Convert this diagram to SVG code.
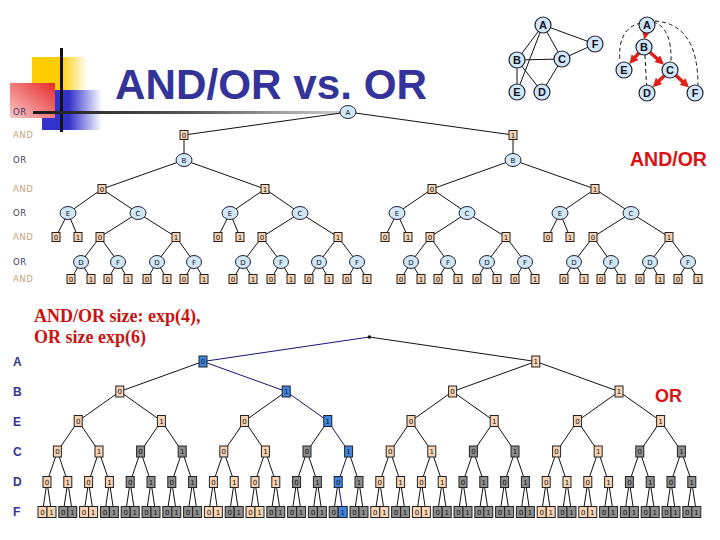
<svg xmlns="http://www.w3.org/2000/svg" width="720" height="540" viewBox="0 0 720 540">
<defs>
<style>
.lab{font-family:"DejaVu Sans",Verdana,sans-serif;font-size:8.5px;letter-spacing:0.5px}
.lor{fill:#3c3c64}
.land{fill:#c8a27c}
.n text,.o text{font-family:"DejaVu Sans",Verdana,sans-serif;font-size:7px;text-anchor:middle;fill:#111}
.n rect{stroke:#222;stroke-width:1}
.p rect{fill:#f8d3b3}
.g rect{fill:#8e8e8e}
.b rect{fill:#3f86e2}
.o ellipse{fill:#cfe7f9;stroke:#223;stroke-width:1}
.gc circle{fill:#cfe7f9;stroke:#223;stroke-width:1.2}
.gc text{font-family:"Liberation Sans",Arial,sans-serif;font-size:11px;font-weight:bold;text-anchor:middle;fill:#112}
.e{stroke:#111;stroke-width:1;fill:none}
.nv{stroke:#14147a}
.dash{stroke:#111;stroke-width:1;stroke-dasharray:4 3;fill:none}
.red{stroke:#e0201a;stroke-width:3.5;fill:none;marker-end:url(#ah)}
.rl{font-family:"Liberation Sans",Arial,sans-serif;font-weight:bold;font-size:12px;fill:#333399}
</style>
<linearGradient id="gy" x1="0" y1="0" x2="1" y2="0"><stop offset="0.5" stop-color="#ffcc00"/><stop offset="1" stop-color="#ffcc00" stop-opacity="0"/></linearGradient>
<linearGradient id="gb" x1="0" y1="0" x2="1" y2="0"><stop offset="0.45" stop-color="#3333cc"/><stop offset="1" stop-color="#3333cc" stop-opacity="0"/></linearGradient>
<linearGradient id="gr" x1="1" y1="0" x2="0" y2="1"><stop offset="0" stop-color="#e82a2a"/><stop offset="1" stop-color="#f8c8c8"/></linearGradient>
<linearGradient id="gl" x1="0" y1="0" x2="1" y2="0"><stop offset="0" stop-color="#1a1a1a"/><stop offset="0.5" stop-color="#555"/><stop offset="1" stop-color="#cfcfcf"/></linearGradient>
<marker id="ah" markerUnits="userSpaceOnUse" markerWidth="10" markerHeight="10" refX="3" refY="4.5" orient="auto"><path d="M0,0L9,4.5L0,9z" fill="#e0201a"/></marker>
</defs>
<rect width="720" height="540" fill="#fff"/>
<g id="decor">
<rect x="32" y="57" width="56" height="33" fill="url(#gy)"/>
<rect x="42" y="90" width="60" height="40" fill="url(#gb)"/>
<rect x="10" y="83" width="45" height="35" fill="url(#gr)"/>
<rect x="60" y="48" width="3" height="84" fill="#111"/>
<rect x="33" y="111" width="310" height="3" fill="url(#gl)"/>
</g>
<g id="title"><text x="115" y="99" font-family="Liberation Sans,Arial,sans-serif" font-weight="bold" font-size="43" fill="#333399" textLength="312" lengthAdjust="spacingAndGlyphs">AND/OR vs. OR</text></g>
<g id="labels">
<text class="lab lor" x="13" y="115">OR</text>
<text class="lab land" x="13" y="138">AND</text>
<text class="lab lor" x="13" y="163">OR</text>
<text class="lab land" x="13" y="192">AND</text>
<text class="lab lor" x="13" y="216">OR</text>
<text class="lab land" x="13" y="240">AND</text>
<text class="lab lor" x="13" y="265">OR</text>
<text class="lab land" x="13" y="282">AND</text>
<text x="630" y="166" font-family="Liberation Sans,Arial,sans-serif" font-weight="bold" font-size="19.5" fill="#dd1111">AND/OR</text>
<text x="34" y="322" font-family="Liberation Serif,Times New Roman,serif" font-weight="bold" font-size="18" fill="#cc1111">AND/OR size: exp(4),</text>
<text x="34" y="343" font-family="Liberation Serif,Times New Roman,serif" font-weight="bold" font-size="18" fill="#cc1111">OR size exp(6)</text>
<text x="655" y="402" font-family="Liberation Sans,Arial,sans-serif" font-weight="bold" font-size="18" fill="#dd1111">OR</text>
<text class="rl" x="13" y="366">A</text>
<text class="rl" x="13" y="396">B</text>
<text class="rl" x="13" y="425.5">E</text>
<text class="rl" x="13" y="456">C</text>
<text class="rl" x="13" y="486">D</text>
<text class="rl" x="13" y="516">F</text>
</g>
<g id="connectors">
<g id="graph1-edges" class="e">
<path d="M543 25L517 60"/><path d="M543 25L562 59"/><path d="M543 25L595 44"/><path d="M543 25L517 92"/><path d="M517 60L562 59"/><path d="M517 60L517 92"/><path d="M517 60L542 92"/><path d="M562 59L595 44"/><path d="M562 59L542 92"/>
</g>
<g id="graph2-edges">
<path class="dash" d="M641 23Q617 28 620 62"/>
<path class="dash" d="M653 22Q672 27 671 62"/>
<path class="dash" d="M655 21Q698 24 698 85"/>
<path class="dash" d="M645 55L646.5 85"/>
<path class="red" d="M646.3 30L645.6 33.5"/>
<path class="red" d="M638.8 53L633.2 59.4"/>
<path class="red" d="M650 52.3L659.5 60.7"/>
<path class="red" d="M664.3 75.7L656.9 83.1"/>
<path class="red" d="M675.9 75.4L684.7 83.5"/>
</g>
<g id="andor-edges" class="e">
<path d="M348 112L184 135"/><path d="M348 112L513 135"/>
<path d="M184 135L184 160"/><path d="M513 135L513 160"/>
<path d="M184 160L102 189"/><path d="M184 160L265 189"/><path d="M513 160L432 189"/><path d="M513 160L595 189"/>
<path d="M102 189L68 213"/><path d="M102 189L138 213"/><path d="M265 189L230 213"/><path d="M265 189L300 213"/><path d="M432 189L397 213"/><path d="M432 189L467 213"/><path d="M595 189L560 213"/><path d="M595 189L631 213"/>
<path d="M68 213L56 237"/><path d="M68 213L78 237"/><path d="M230 213L218 237"/><path d="M230 213L240 237"/><path d="M397 213L385 237"/><path d="M397 213L408 237"/><path d="M560 213L548 237"/><path d="M560 213L570 237"/>
<path d="M138 213L100 237"/><path d="M138 213L176 237"/><path d="M300 213L262 237"/><path d="M300 213L338 237"/><path d="M467 213L430 237"/><path d="M467 213L506 237"/><path d="M631 213L593 237"/><path d="M631 213L669 237"/>
<path d="M100 237L81 262"/><path d="M100 237L118 262"/><path d="M176 237L157 262"/><path d="M176 237L194 262"/><path d="M262 237L243 262"/><path d="M262 237L281 262"/><path d="M338 237L319 262"/><path d="M338 237L357 262"/>
<path d="M430 237L411 262"/><path d="M430 237L448 262"/><path d="M506 237L487 262"/><path d="M506 237L525 262"/><path d="M593 237L574 262"/><path d="M593 237L611 262"/><path d="M669 237L650 262"/><path d="M669 237L688 262"/>
<path d="M81 262L71 279"/><path d="M81 262L91 279"/><path d="M118 262L108 279"/><path d="M118 262L128 279"/><path d="M157 262L147 279"/><path d="M157 262L167 279"/><path d="M194 262L184 279"/><path d="M194 262L204 279"/>
<path d="M243 262L233 279"/><path d="M243 262L253 279"/><path d="M281 262L271 279"/><path d="M281 262L291 279"/><path d="M319 262L309 279"/><path d="M319 262L329 279"/><path d="M357 262L347 279"/><path d="M357 262L367 279"/>
<path d="M411 262L401 279"/><path d="M411 262L421 279"/><path d="M448 262L438 279"/><path d="M448 262L458 279"/><path d="M487 262L477 279"/><path d="M487 262L497 279"/><path d="M525 262L515 279"/><path d="M525 262L535 279"/>
<path d="M574 262L564 279"/><path d="M574 262L584 279"/><path d="M611 262L601 279"/><path d="M611 262L621 279"/><path d="M650 262L640 279"/><path d="M650 262L660 279"/><path d="M688 262L678 279"/><path d="M688 262L698 279"/>
</g>
<g id="or-edges" class="e">
<path class="nv" d="M369.4 337L203 361.5"/><path d="M369.4 337L535.8 361.5"/>
<path d="M203 361.5L119.8 391.5"/><path class="nv" d="M203 361.5L286.2 391.5"/><path d="M535.8 361.5L452.6 391.5"/><path d="M535.8 361.5L619 391.5"/>
<path d="M119.8 391.5L78.2 421"/><path d="M119.8 391.5L161.4 421"/><path d="M286.2 391.5L244.6 421"/><path class="nv" d="M286.2 391.5L327.8 421"/><path d="M452.6 391.5L411 421"/><path d="M452.6 391.5L494.2 421"/><path d="M619 391.5L577.4 421"/><path d="M619 391.5L660.6 421"/>
<path d="M78.2 421L57.4 451.5"/><path d="M78.2 421L99 451.5"/><path d="M161.4 421L140.6 451.5"/><path d="M161.4 421L182.2 451.5"/><path d="M244.6 421L223.8 451.5"/><path d="M244.6 421L265.4 451.5"/><path d="M327.8 421L307 451.5"/><path class="nv" d="M327.8 421L348.6 451.5"/>
<path d="M411 421L390.2 451.5"/><path d="M411 421L431.8 451.5"/><path d="M494.2 421L473.4 451.5"/><path d="M494.2 421L515 451.5"/><path d="M577.4 421L556.6 451.5"/><path d="M577.4 421L598.2 451.5"/><path d="M660.6 421L639.8 451.5"/><path d="M660.6 421L681.4 451.5"/>
<path d="M57.4 451.5L47 482"/><path d="M57.4 451.5L67.8 482"/><path d="M99 451.5L88.6 482"/><path d="M99 451.5L109.4 482"/><path d="M140.6 451.5L130.2 482"/><path d="M140.6 451.5L151 482"/><path d="M182.2 451.5L171.8 482"/><path d="M182.2 451.5L192.6 482"/>
<path d="M223.8 451.5L213.4 482"/><path d="M223.8 451.5L234.2 482"/><path d="M265.4 451.5L255 482"/><path d="M265.4 451.5L275.8 482"/><path d="M307 451.5L296.6 482"/><path d="M307 451.5L317.4 482"/><path class="nv" d="M348.6 451.5L338.2 482"/><path d="M348.6 451.5L359 482"/>
<path d="M390.2 451.5L379.8 482"/><path d="M390.2 451.5L400.6 482"/><path d="M431.8 451.5L421.4 482"/><path d="M431.8 451.5L442.2 482"/><path d="M473.4 451.5L463 482"/><path d="M473.4 451.5L483.8 482"/><path d="M515 451.5L504.6 482"/><path d="M515 451.5L525.4 482"/>
<path d="M556.6 451.5L546.2 482"/><path d="M556.6 451.5L567 482"/><path d="M598.2 451.5L587.8 482"/><path d="M598.2 451.5L608.6 482"/><path d="M639.8 451.5L629.4 482"/><path d="M639.8 451.5L650.2 482"/><path d="M681.4 451.5L671 482"/><path d="M681.4 451.5L691.8 482"/>
<path d="M47 482L42.5 512"/><path d="M47 482L51.5 512"/><path d="M67.8 482L63.3 512"/><path d="M67.8 482L72.3 512"/><path d="M88.6 482L84.1 512"/><path d="M88.6 482L93.1 512"/><path d="M109.4 482L104.9 512"/><path d="M109.4 482L113.9 512"/>
<path d="M130.2 482L125.7 512"/><path d="M130.2 482L134.7 512"/><path d="M151 482L146.5 512"/><path d="M151 482L155.5 512"/><path d="M171.8 482L167.3 512"/><path d="M171.8 482L176.3 512"/><path d="M192.6 482L188.1 512"/><path d="M192.6 482L197.1 512"/>
<path d="M213.4 482L208.9 512"/><path d="M213.4 482L217.9 512"/><path d="M234.2 482L229.7 512"/><path d="M234.2 482L238.7 512"/><path d="M255 482L250.5 512"/><path d="M255 482L259.5 512"/><path d="M275.8 482L271.3 512"/><path d="M275.8 482L280.3 512"/>
<path d="M296.6 482L292.1 512"/><path d="M296.6 482L301.1 512"/><path d="M317.4 482L312.9 512"/><path d="M317.4 482L321.9 512"/><path d="M338.2 482L333.7 512"/><path class="nv" d="M338.2 482L342.7 512"/><path d="M359 482L354.5 512"/><path d="M359 482L363.5 512"/>
<path d="M379.8 482L375.3 512"/><path d="M379.8 482L384.3 512"/><path d="M400.6 482L396.1 512"/><path d="M400.6 482L405.1 512"/><path d="M421.4 482L416.9 512"/><path d="M421.4 482L425.9 512"/><path d="M442.2 482L437.7 512"/><path d="M442.2 482L446.7 512"/>
<path d="M463 482L458.5 512"/><path d="M463 482L467.5 512"/><path d="M483.8 482L479.3 512"/><path d="M483.8 482L488.3 512"/><path d="M504.6 482L500.1 512"/><path d="M504.6 482L509.1 512"/><path d="M525.4 482L520.9 512"/><path d="M525.4 482L529.9 512"/>
<path d="M546.2 482L541.7 512"/><path d="M546.2 482L550.7 512"/><path d="M567 482L562.5 512"/><path d="M567 482L571.5 512"/><path d="M587.8 482L583.3 512"/><path d="M587.8 482L592.3 512"/><path d="M608.6 482L604.1 512"/><path d="M608.6 482L613.1 512"/>
<path d="M629.4 482L624.9 512"/><path d="M629.4 482L633.9 512"/><path d="M650.2 482L645.7 512"/><path d="M650.2 482L654.7 512"/><path d="M671 482L666.5 512"/><path d="M671 482L675.5 512"/><path d="M691.8 482L687.3 512"/><path d="M691.8 482L696.3 512"/>
</g>
</g>
<g id="graph1-nodes" class="gc">
<g id="g1-A"><circle cx="543" cy="25" r="8"/><text x="543" y="29">A</text></g>
<g id="g1-F"><circle cx="595" cy="44" r="8"/><text x="595" y="48">F</text></g>
<g id="g1-B"><circle cx="517" cy="60" r="8"/><text x="517" y="64">B</text></g>
<g id="g1-C"><circle cx="562" cy="59" r="8"/><text x="562" y="63">C</text></g>
<g id="g1-E"><circle cx="517" cy="92" r="8"/><text x="517" y="96">E</text></g>
<g id="g1-D"><circle cx="542" cy="92" r="8"/><text x="542" y="96">D</text></g>
</g>
<g id="graph2-nodes" class="gc">
<g id="g2-A"><circle cx="647" cy="25" r="8"/><text x="647" y="29">A</text></g>
<g id="g2-B"><circle cx="644" cy="47" r="8"/><text x="644" y="51">B</text></g>
<g id="g2-E"><circle cx="624" cy="70" r="8"/><text x="624" y="74">E</text></g>
<g id="g2-C"><circle cx="670" cy="70" r="8"/><text x="670" y="74">C</text></g>
<g id="g2-D"><circle cx="647" cy="93" r="8"/><text x="647" y="97">D</text></g>
<g id="g2-F"><circle cx="695" cy="93" r="8"/><text x="695" y="97">F</text></g>
</g>
<g id="andor-tree">
<g id="ao-A" class="o" transform="translate(348,112)"><ellipse rx="8" ry="6.5"/><text y="2.5">A</text></g>
<g id="ao-l1a" class="n p" transform="translate(184,135)"><rect x="-4" y="-4.5" width="8" height="9"/><text y="2.5">0</text></g>
<g id="ao-l1b" class="n p" transform="translate(513,135)"><rect x="-4" y="-4.5" width="8" height="9"/><text y="2.5">1</text></g>
<g id="ao-B0" class="o" transform="translate(184,160)"><ellipse rx="8" ry="6.5"/><text y="2.5">B</text></g>
<g id="ao-B1" class="o" transform="translate(513,160)"><ellipse rx="8" ry="6.5"/><text y="2.5">B</text></g>
<g id="ao-l3a" class="n p" transform="translate(102,189)"><rect x="-4" y="-4.5" width="8" height="9"/><text y="2.5">0</text></g>
<g id="ao-l3b" class="n p" transform="translate(265,189)"><rect x="-4" y="-4.5" width="8" height="9"/><text y="2.5">1</text></g>
<g id="ao-l3c" class="n p" transform="translate(432,189)"><rect x="-4" y="-4.5" width="8" height="9"/><text y="2.5">0</text></g>
<g id="ao-l3d" class="n p" transform="translate(595,189)"><rect x="-4" y="-4.5" width="8" height="9"/><text y="2.5">1</text></g>
<g id="ao-E0" class="o" transform="translate(68,213)"><ellipse rx="8" ry="6.5"/><text y="2.5">E</text></g>
<g id="ao-C0" class="o" transform="translate(138,213)"><ellipse rx="8" ry="6.5"/><text y="2.5">C</text></g>
<g id="ao-E1" class="o" transform="translate(230,213)"><ellipse rx="8" ry="6.5"/><text y="2.5">E</text></g>
<g id="ao-C1" class="o" transform="translate(300,213)"><ellipse rx="8" ry="6.5"/><text y="2.5">C</text></g>
<g id="ao-E2" class="o" transform="translate(397,213)"><ellipse rx="8" ry="6.5"/><text y="2.5">E</text></g>
<g id="ao-C2" class="o" transform="translate(467,213)"><ellipse rx="8" ry="6.5"/><text y="2.5">C</text></g>
<g id="ao-E3" class="o" transform="translate(560,213)"><ellipse rx="8" ry="6.5"/><text y="2.5">E</text></g>
<g id="ao-C3" class="o" transform="translate(631,213)"><ellipse rx="8" ry="6.5"/><text y="2.5">C</text></g>
<g id="ao-l5-0" class="n p" transform="translate(56,237)"><rect x="-4" y="-4.5" width="8" height="9"/><text y="2.5">0</text></g>
<g id="ao-l5-1" class="n p" transform="translate(78,237)"><rect x="-4" y="-4.5" width="8" height="9"/><text y="2.5">1</text></g>
<g id="ao-l5-2" class="n p" transform="translate(100,237)"><rect x="-4" y="-4.5" width="8" height="9"/><text y="2.5">0</text></g>
<g id="ao-l5-3" class="n p" transform="translate(176,237)"><rect x="-4" y="-4.5" width="8" height="9"/><text y="2.5">1</text></g>
<g id="ao-l5-4" class="n p" transform="translate(218,237)"><rect x="-4" y="-4.5" width="8" height="9"/><text y="2.5">0</text></g>
<g id="ao-l5-5" class="n p" transform="translate(240,237)"><rect x="-4" y="-4.5" width="8" height="9"/><text y="2.5">1</text></g>
<g id="ao-l5-6" class="n p" transform="translate(262,237)"><rect x="-4" y="-4.5" width="8" height="9"/><text y="2.5">0</text></g>
<g id="ao-l5-7" class="n p" transform="translate(338,237)"><rect x="-4" y="-4.5" width="8" height="9"/><text y="2.5">1</text></g>
<g id="ao-l5-8" class="n p" transform="translate(385,237)"><rect x="-4" y="-4.5" width="8" height="9"/><text y="2.5">0</text></g>
<g id="ao-l5-9" class="n p" transform="translate(408,237)"><rect x="-4" y="-4.5" width="8" height="9"/><text y="2.5">1</text></g>
<g id="ao-l5-10" class="n p" transform="translate(430,237)"><rect x="-4" y="-4.5" width="8" height="9"/><text y="2.5">0</text></g>
<g id="ao-l5-11" class="n p" transform="translate(506,237)"><rect x="-4" y="-4.5" width="8" height="9"/><text y="2.5">1</text></g>
<g id="ao-l5-12" class="n p" transform="translate(548,237)"><rect x="-4" y="-4.5" width="8" height="9"/><text y="2.5">0</text></g>
<g id="ao-l5-13" class="n p" transform="translate(570,237)"><rect x="-4" y="-4.5" width="8" height="9"/><text y="2.5">1</text></g>
<g id="ao-l5-14" class="n p" transform="translate(593,237)"><rect x="-4" y="-4.5" width="8" height="9"/><text y="2.5">0</text></g>
<g id="ao-l5-15" class="n p" transform="translate(669,237)"><rect x="-4" y="-4.5" width="8" height="9"/><text y="2.5">1</text></g>
<g id="ao-D0" class="o" transform="translate(81,262)"><ellipse rx="7.5" ry="6.5"/><text y="2.5">D</text></g>
<g id="ao-F0" class="o" transform="translate(118,262)"><ellipse rx="7.5" ry="6.5"/><text y="2.5">F</text></g>
<g id="ao-D1" class="o" transform="translate(157,262)"><ellipse rx="7.5" ry="6.5"/><text y="2.5">D</text></g>
<g id="ao-F1" class="o" transform="translate(194,262)"><ellipse rx="7.5" ry="6.5"/><text y="2.5">F</text></g>
<g id="ao-D2" class="o" transform="translate(243,262)"><ellipse rx="7.5" ry="6.5"/><text y="2.5">D</text></g>
<g id="ao-F2" class="o" transform="translate(281,262)"><ellipse rx="7.5" ry="6.5"/><text y="2.5">F</text></g>
<g id="ao-D3" class="o" transform="translate(319,262)"><ellipse rx="7.5" ry="6.5"/><text y="2.5">D</text></g>
<g id="ao-F3" class="o" transform="translate(357,262)"><ellipse rx="7.5" ry="6.5"/><text y="2.5">F</text></g>
<g id="ao-D4" class="o" transform="translate(411,262)"><ellipse rx="7.5" ry="6.5"/><text y="2.5">D</text></g>
<g id="ao-F4" class="o" transform="translate(448,262)"><ellipse rx="7.5" ry="6.5"/><text y="2.5">F</text></g>
<g id="ao-D5" class="o" transform="translate(487,262)"><ellipse rx="7.5" ry="6.5"/><text y="2.5">D</text></g>
<g id="ao-F5" class="o" transform="translate(525,262)"><ellipse rx="7.5" ry="6.5"/><text y="2.5">F</text></g>
<g id="ao-D6" class="o" transform="translate(574,262)"><ellipse rx="7.5" ry="6.5"/><text y="2.5">D</text></g>
<g id="ao-F6" class="o" transform="translate(611,262)"><ellipse rx="7.5" ry="6.5"/><text y="2.5">F</text></g>
<g id="ao-D7" class="o" transform="translate(650,262)"><ellipse rx="7.5" ry="6.5"/><text y="2.5">D</text></g>
<g id="ao-F7" class="o" transform="translate(688,262)"><ellipse rx="7.5" ry="6.5"/><text y="2.5">F</text></g>
<g id="ao-l7-0" class="n p" transform="translate(71,279)"><rect x="-4" y="-4.5" width="8" height="9"/><text y="2.5">0</text></g>
<g id="ao-l7-1" class="n p" transform="translate(91,279)"><rect x="-4" y="-4.5" width="8" height="9"/><text y="2.5">1</text></g>
<g id="ao-l7-2" class="n p" transform="translate(108,279)"><rect x="-4" y="-4.5" width="8" height="9"/><text y="2.5">0</text></g>
<g id="ao-l7-3" class="n p" transform="translate(128,279)"><rect x="-4" y="-4.5" width="8" height="9"/><text y="2.5">1</text></g>
<g id="ao-l7-4" class="n p" transform="translate(147,279)"><rect x="-4" y="-4.5" width="8" height="9"/><text y="2.5">0</text></g>
<g id="ao-l7-5" class="n p" transform="translate(167,279)"><rect x="-4" y="-4.5" width="8" height="9"/><text y="2.5">1</text></g>
<g id="ao-l7-6" class="n p" transform="translate(184,279)"><rect x="-4" y="-4.5" width="8" height="9"/><text y="2.5">0</text></g>
<g id="ao-l7-7" class="n p" transform="translate(204,279)"><rect x="-4" y="-4.5" width="8" height="9"/><text y="2.5">1</text></g>
<g id="ao-l7-8" class="n p" transform="translate(233,279)"><rect x="-4" y="-4.5" width="8" height="9"/><text y="2.5">0</text></g>
<g id="ao-l7-9" class="n p" transform="translate(253,279)"><rect x="-4" y="-4.5" width="8" height="9"/><text y="2.5">1</text></g>
<g id="ao-l7-10" class="n p" transform="translate(271,279)"><rect x="-4" y="-4.5" width="8" height="9"/><text y="2.5">0</text></g>
<g id="ao-l7-11" class="n p" transform="translate(291,279)"><rect x="-4" y="-4.5" width="8" height="9"/><text y="2.5">1</text></g>
<g id="ao-l7-12" class="n p" transform="translate(309,279)"><rect x="-4" y="-4.5" width="8" height="9"/><text y="2.5">0</text></g>
<g id="ao-l7-13" class="n p" transform="translate(329,279)"><rect x="-4" y="-4.5" width="8" height="9"/><text y="2.5">1</text></g>
<g id="ao-l7-14" class="n p" transform="translate(347,279)"><rect x="-4" y="-4.5" width="8" height="9"/><text y="2.5">0</text></g>
<g id="ao-l7-15" class="n p" transform="translate(367,279)"><rect x="-4" y="-4.5" width="8" height="9"/><text y="2.5">1</text></g>
<g id="ao-l7-16" class="n p" transform="translate(401,279)"><rect x="-4" y="-4.5" width="8" height="9"/><text y="2.5">0</text></g>
<g id="ao-l7-17" class="n p" transform="translate(421,279)"><rect x="-4" y="-4.5" width="8" height="9"/><text y="2.5">1</text></g>
<g id="ao-l7-18" class="n p" transform="translate(438,279)"><rect x="-4" y="-4.5" width="8" height="9"/><text y="2.5">0</text></g>
<g id="ao-l7-19" class="n p" transform="translate(458,279)"><rect x="-4" y="-4.5" width="8" height="9"/><text y="2.5">1</text></g>
<g id="ao-l7-20" class="n p" transform="translate(477,279)"><rect x="-4" y="-4.5" width="8" height="9"/><text y="2.5">0</text></g>
<g id="ao-l7-21" class="n p" transform="translate(497,279)"><rect x="-4" y="-4.5" width="8" height="9"/><text y="2.5">1</text></g>
<g id="ao-l7-22" class="n p" transform="translate(515,279)"><rect x="-4" y="-4.5" width="8" height="9"/><text y="2.5">0</text></g>
<g id="ao-l7-23" class="n p" transform="translate(535,279)"><rect x="-4" y="-4.5" width="8" height="9"/><text y="2.5">1</text></g>
<g id="ao-l7-24" class="n p" transform="translate(564,279)"><rect x="-4" y="-4.5" width="8" height="9"/><text y="2.5">0</text></g>
<g id="ao-l7-25" class="n p" transform="translate(584,279)"><rect x="-4" y="-4.5" width="8" height="9"/><text y="2.5">1</text></g>
<g id="ao-l7-26" class="n p" transform="translate(601,279)"><rect x="-4" y="-4.5" width="8" height="9"/><text y="2.5">0</text></g>
<g id="ao-l7-27" class="n p" transform="translate(621,279)"><rect x="-4" y="-4.5" width="8" height="9"/><text y="2.5">1</text></g>
<g id="ao-l7-28" class="n p" transform="translate(640,279)"><rect x="-4" y="-4.5" width="8" height="9"/><text y="2.5">0</text></g>
<g id="ao-l7-29" class="n p" transform="translate(660,279)"><rect x="-4" y="-4.5" width="8" height="9"/><text y="2.5">1</text></g>
<g id="ao-l7-30" class="n p" transform="translate(678,279)"><rect x="-4" y="-4.5" width="8" height="9"/><text y="2.5">0</text></g>
<g id="ao-l7-31" class="n p" transform="translate(698,279)"><rect x="-4" y="-4.5" width="8" height="9"/><text y="2.5">1</text></g>
</g>
<g id="or-tree">
<g id="or-root"><circle cx="369.4" cy="337" r="1.8" fill="#111"/></g>
<g id="or-A0" class="n b" transform="translate(203,361.5)"><rect x="-4" y="-5.5" width="8" height="11"/><text y="2.5">0</text></g>
<g id="or-A1" class="n p" transform="translate(535.8,361.5)"><rect x="-4" y="-5.5" width="8" height="11"/><text y="2.5">1</text></g>
<g id="or-B0" class="n p" transform="translate(119.8,391.5)"><rect x="-4" y="-5.5" width="8" height="11"/><text y="2.5">0</text></g>
<g id="or-B1" class="n b" transform="translate(286.2,391.5)"><rect x="-4" y="-5.5" width="8" height="11"/><text y="2.5">1</text></g>
<g id="or-B2" class="n p" transform="translate(452.6,391.5)"><rect x="-4" y="-5.5" width="8" height="11"/><text y="2.5">0</text></g>
<g id="or-B3" class="n p" transform="translate(619,391.5)"><rect x="-4" y="-5.5" width="8" height="11"/><text y="2.5">1</text></g>
<g id="or-E0" class="n p" transform="translate(78.2,421)"><rect x="-4" y="-5.5" width="8" height="11"/><text y="2.5">0</text></g>
<g id="or-E1" class="n p" transform="translate(161.4,421)"><rect x="-4" y="-5.5" width="8" height="11"/><text y="2.5">1</text></g>
<g id="or-E2" class="n p" transform="translate(244.6,421)"><rect x="-4" y="-5.5" width="8" height="11"/><text y="2.5">0</text></g>
<g id="or-E3" class="n b" transform="translate(327.8,421)"><rect x="-4" y="-5.5" width="8" height="11"/><text y="2.5">1</text></g>
<g id="or-E4" class="n p" transform="translate(411,421)"><rect x="-4" y="-5.5" width="8" height="11"/><text y="2.5">0</text></g>
<g id="or-E5" class="n p" transform="translate(494.2,421)"><rect x="-4" y="-5.5" width="8" height="11"/><text y="2.5">1</text></g>
<g id="or-E6" class="n p" transform="translate(577.4,421)"><rect x="-4" y="-5.5" width="8" height="11"/><text y="2.5">0</text></g>
<g id="or-E7" class="n p" transform="translate(660.6,421)"><rect x="-4" y="-5.5" width="8" height="11"/><text y="2.5">1</text></g>
<g id="or-C0" class="n p" transform="translate(57.4,451.5)"><rect x="-4" y="-5.5" width="8" height="11"/><text y="2.5">0</text></g>
<g id="or-C1" class="n p" transform="translate(99,451.5)"><rect x="-4" y="-5.5" width="8" height="11"/><text y="2.5">1</text></g>
<g id="or-C2" class="n g" transform="translate(140.6,451.5)"><rect x="-4" y="-5.5" width="8" height="11"/><text y="2.5">0</text></g>
<g id="or-C3" class="n g" transform="translate(182.2,451.5)"><rect x="-4" y="-5.5" width="8" height="11"/><text y="2.5">1</text></g>
<g id="or-C4" class="n p" transform="translate(223.8,451.5)"><rect x="-4" y="-5.5" width="8" height="11"/><text y="2.5">0</text></g>
<g id="or-C5" class="n p" transform="translate(265.4,451.5)"><rect x="-4" y="-5.5" width="8" height="11"/><text y="2.5">1</text></g>
<g id="or-C6" class="n g" transform="translate(307,451.5)"><rect x="-4" y="-5.5" width="8" height="11"/><text y="2.5">0</text></g>
<g id="or-C7" class="n b" transform="translate(348.6,451.5)"><rect x="-4" y="-5.5" width="8" height="11"/><text y="2.5">1</text></g>
<g id="or-C8" class="n p" transform="translate(390.2,451.5)"><rect x="-4" y="-5.5" width="8" height="11"/><text y="2.5">0</text></g>
<g id="or-C9" class="n p" transform="translate(431.8,451.5)"><rect x="-4" y="-5.5" width="8" height="11"/><text y="2.5">1</text></g>
<g id="or-C10" class="n g" transform="translate(473.4,451.5)"><rect x="-4" y="-5.5" width="8" height="11"/><text y="2.5">0</text></g>
<g id="or-C11" class="n g" transform="translate(515,451.5)"><rect x="-4" y="-5.5" width="8" height="11"/><text y="2.5">1</text></g>
<g id="or-C12" class="n p" transform="translate(556.6,451.5)"><rect x="-4" y="-5.5" width="8" height="11"/><text y="2.5">0</text></g>
<g id="or-C13" class="n p" transform="translate(598.2,451.5)"><rect x="-4" y="-5.5" width="8" height="11"/><text y="2.5">1</text></g>
<g id="or-C14" class="n g" transform="translate(639.8,451.5)"><rect x="-4" y="-5.5" width="8" height="11"/><text y="2.5">0</text></g>
<g id="or-C15" class="n g" transform="translate(681.4,451.5)"><rect x="-4" y="-5.5" width="8" height="11"/><text y="2.5">1</text></g>
<g id="or-D0" class="n p" transform="translate(47,482)"><rect x="-4" y="-5.5" width="8" height="11"/><text y="2.5">0</text></g>
<g id="or-D1" class="n p" transform="translate(67.8,482)"><rect x="-4" y="-5.5" width="8" height="11"/><text y="2.5">1</text></g>
<g id="or-D2" class="n p" transform="translate(88.6,482)"><rect x="-4" y="-5.5" width="8" height="11"/><text y="2.5">0</text></g>
<g id="or-D3" class="n p" transform="translate(109.4,482)"><rect x="-4" y="-5.5" width="8" height="11"/><text y="2.5">1</text></g>
<g id="or-D4" class="n g" transform="translate(130.2,482)"><rect x="-4" y="-5.5" width="8" height="11"/><text y="2.5">0</text></g>
<g id="or-D5" class="n g" transform="translate(151,482)"><rect x="-4" y="-5.5" width="8" height="11"/><text y="2.5">1</text></g>
<g id="or-D6" class="n g" transform="translate(171.8,482)"><rect x="-4" y="-5.5" width="8" height="11"/><text y="2.5">0</text></g>
<g id="or-D7" class="n g" transform="translate(192.6,482)"><rect x="-4" y="-5.5" width="8" height="11"/><text y="2.5">1</text></g>
<g id="or-D8" class="n p" transform="translate(213.4,482)"><rect x="-4" y="-5.5" width="8" height="11"/><text y="2.5">0</text></g>
<g id="or-D9" class="n p" transform="translate(234.2,482)"><rect x="-4" y="-5.5" width="8" height="11"/><text y="2.5">1</text></g>
<g id="or-D10" class="n p" transform="translate(255,482)"><rect x="-4" y="-5.5" width="8" height="11"/><text y="2.5">0</text></g>
<g id="or-D11" class="n p" transform="translate(275.8,482)"><rect x="-4" y="-5.5" width="8" height="11"/><text y="2.5">1</text></g>
<g id="or-D12" class="n g" transform="translate(296.6,482)"><rect x="-4" y="-5.5" width="8" height="11"/><text y="2.5">0</text></g>
<g id="or-D13" class="n g" transform="translate(317.4,482)"><rect x="-4" y="-5.5" width="8" height="11"/><text y="2.5">1</text></g>
<g id="or-D14" class="n b" transform="translate(338.2,482)"><rect x="-4" y="-5.5" width="8" height="11"/><text y="2.5">0</text></g>
<g id="or-D15" class="n g" transform="translate(359,482)"><rect x="-4" y="-5.5" width="8" height="11"/><text y="2.5">1</text></g>
<g id="or-D16" class="n p" transform="translate(379.8,482)"><rect x="-4" y="-5.5" width="8" height="11"/><text y="2.5">0</text></g>
<g id="or-D17" class="n p" transform="translate(400.6,482)"><rect x="-4" y="-5.5" width="8" height="11"/><text y="2.5">1</text></g>
<g id="or-D18" class="n p" transform="translate(421.4,482)"><rect x="-4" y="-5.5" width="8" height="11"/><text y="2.5">0</text></g>
<g id="or-D19" class="n p" transform="translate(442.2,482)"><rect x="-4" y="-5.5" width="8" height="11"/><text y="2.5">1</text></g>
<g id="or-D20" class="n g" transform="translate(463,482)"><rect x="-4" y="-5.5" width="8" height="11"/><text y="2.5">0</text></g>
<g id="or-D21" class="n g" transform="translate(483.8,482)"><rect x="-4" y="-5.5" width="8" height="11"/><text y="2.5">1</text></g>
<g id="or-D22" class="n g" transform="translate(504.6,482)"><rect x="-4" y="-5.5" width="8" height="11"/><text y="2.5">0</text></g>
<g id="or-D23" class="n g" transform="translate(525.4,482)"><rect x="-4" y="-5.5" width="8" height="11"/><text y="2.5">1</text></g>
<g id="or-D24" class="n p" transform="translate(546.2,482)"><rect x="-4" y="-5.5" width="8" height="11"/><text y="2.5">0</text></g>
<g id="or-D25" class="n p" transform="translate(567,482)"><rect x="-4" y="-5.5" width="8" height="11"/><text y="2.5">1</text></g>
<g id="or-D26" class="n p" transform="translate(587.8,482)"><rect x="-4" y="-5.5" width="8" height="11"/><text y="2.5">0</text></g>
<g id="or-D27" class="n p" transform="translate(608.6,482)"><rect x="-4" y="-5.5" width="8" height="11"/><text y="2.5">1</text></g>
<g id="or-D28" class="n g" transform="translate(629.4,482)"><rect x="-4" y="-5.5" width="8" height="11"/><text y="2.5">0</text></g>
<g id="or-D29" class="n g" transform="translate(650.2,482)"><rect x="-4" y="-5.5" width="8" height="11"/><text y="2.5">1</text></g>
<g id="or-D30" class="n g" transform="translate(671,482)"><rect x="-4" y="-5.5" width="8" height="11"/><text y="2.5">0</text></g>
<g id="or-D31" class="n g" transform="translate(691.8,482)"><rect x="-4" y="-5.5" width="8" height="11"/><text y="2.5">1</text></g>
<g id="or-F0" class="n p" transform="translate(42.5,512)"><rect x="-4.5" y="-5.5" width="9" height="11"/><text y="2.5">0</text></g>
<g id="or-F1" class="n p" transform="translate(51.5,512)"><rect x="-4.5" y="-5.5" width="9" height="11"/><text y="2.5">1</text></g>
<g id="or-F2" class="n g" transform="translate(63.3,512)"><rect x="-4.5" y="-5.5" width="9" height="11"/><text y="2.5">0</text></g>
<g id="or-F3" class="n g" transform="translate(72.3,512)"><rect x="-4.5" y="-5.5" width="9" height="11"/><text y="2.5">1</text></g>
<g id="or-F4" class="n p" transform="translate(84.1,512)"><rect x="-4.5" y="-5.5" width="9" height="11"/><text y="2.5">0</text></g>
<g id="or-F5" class="n p" transform="translate(93.1,512)"><rect x="-4.5" y="-5.5" width="9" height="11"/><text y="2.5">1</text></g>
<g id="or-F6" class="n g" transform="translate(104.9,512)"><rect x="-4.5" y="-5.5" width="9" height="11"/><text y="2.5">0</text></g>
<g id="or-F7" class="n g" transform="translate(113.9,512)"><rect x="-4.5" y="-5.5" width="9" height="11"/><text y="2.5">1</text></g>
<g id="or-F8" class="n g" transform="translate(125.7,512)"><rect x="-4.5" y="-5.5" width="9" height="11"/><text y="2.5">0</text></g>
<g id="or-F9" class="n g" transform="translate(134.7,512)"><rect x="-4.5" y="-5.5" width="9" height="11"/><text y="2.5">1</text></g>
<g id="or-F10" class="n g" transform="translate(146.5,512)"><rect x="-4.5" y="-5.5" width="9" height="11"/><text y="2.5">0</text></g>
<g id="or-F11" class="n g" transform="translate(155.5,512)"><rect x="-4.5" y="-5.5" width="9" height="11"/><text y="2.5">1</text></g>
<g id="or-F12" class="n g" transform="translate(167.3,512)"><rect x="-4.5" y="-5.5" width="9" height="11"/><text y="2.5">0</text></g>
<g id="or-F13" class="n g" transform="translate(176.3,512)"><rect x="-4.5" y="-5.5" width="9" height="11"/><text y="2.5">1</text></g>
<g id="or-F14" class="n g" transform="translate(188.1,512)"><rect x="-4.5" y="-5.5" width="9" height="11"/><text y="2.5">0</text></g>
<g id="or-F15" class="n g" transform="translate(197.1,512)"><rect x="-4.5" y="-5.5" width="9" height="11"/><text y="2.5">1</text></g>
<g id="or-F16" class="n p" transform="translate(208.9,512)"><rect x="-4.5" y="-5.5" width="9" height="11"/><text y="2.5">0</text></g>
<g id="or-F17" class="n p" transform="translate(217.9,512)"><rect x="-4.5" y="-5.5" width="9" height="11"/><text y="2.5">1</text></g>
<g id="or-F18" class="n g" transform="translate(229.7,512)"><rect x="-4.5" y="-5.5" width="9" height="11"/><text y="2.5">0</text></g>
<g id="or-F19" class="n g" transform="translate(238.7,512)"><rect x="-4.5" y="-5.5" width="9" height="11"/><text y="2.5">1</text></g>
<g id="or-F20" class="n p" transform="translate(250.5,512)"><rect x="-4.5" y="-5.5" width="9" height="11"/><text y="2.5">0</text></g>
<g id="or-F21" class="n p" transform="translate(259.5,512)"><rect x="-4.5" y="-5.5" width="9" height="11"/><text y="2.5">1</text></g>
<g id="or-F22" class="n g" transform="translate(271.3,512)"><rect x="-4.5" y="-5.5" width="9" height="11"/><text y="2.5">0</text></g>
<g id="or-F23" class="n g" transform="translate(280.3,512)"><rect x="-4.5" y="-5.5" width="9" height="11"/><text y="2.5">1</text></g>
<g id="or-F24" class="n g" transform="translate(292.1,512)"><rect x="-4.5" y="-5.5" width="9" height="11"/><text y="2.5">0</text></g>
<g id="or-F25" class="n g" transform="translate(301.1,512)"><rect x="-4.5" y="-5.5" width="9" height="11"/><text y="2.5">1</text></g>
<g id="or-F26" class="n g" transform="translate(312.9,512)"><rect x="-4.5" y="-5.5" width="9" height="11"/><text y="2.5">0</text></g>
<g id="or-F27" class="n g" transform="translate(321.9,512)"><rect x="-4.5" y="-5.5" width="9" height="11"/><text y="2.5">1</text></g>
<g id="or-F28" class="n g" transform="translate(333.7,512)"><rect x="-4.5" y="-5.5" width="9" height="11"/><text y="2.5">0</text></g>
<g id="or-F29" class="n b" transform="translate(342.7,512)"><rect x="-4.5" y="-5.5" width="9" height="11"/><text y="2.5">1</text></g>
<g id="or-F30" class="n g" transform="translate(354.5,512)"><rect x="-4.5" y="-5.5" width="9" height="11"/><text y="2.5">0</text></g>
<g id="or-F31" class="n g" transform="translate(363.5,512)"><rect x="-4.5" y="-5.5" width="9" height="11"/><text y="2.5">1</text></g>
<g id="or-F32" class="n p" transform="translate(375.3,512)"><rect x="-4.5" y="-5.5" width="9" height="11"/><text y="2.5">0</text></g>
<g id="or-F33" class="n p" transform="translate(384.3,512)"><rect x="-4.5" y="-5.5" width="9" height="11"/><text y="2.5">1</text></g>
<g id="or-F34" class="n g" transform="translate(396.1,512)"><rect x="-4.5" y="-5.5" width="9" height="11"/><text y="2.5">0</text></g>
<g id="or-F35" class="n g" transform="translate(405.1,512)"><rect x="-4.5" y="-5.5" width="9" height="11"/><text y="2.5">1</text></g>
<g id="or-F36" class="n p" transform="translate(416.9,512)"><rect x="-4.5" y="-5.5" width="9" height="11"/><text y="2.5">0</text></g>
<g id="or-F37" class="n p" transform="translate(425.9,512)"><rect x="-4.5" y="-5.5" width="9" height="11"/><text y="2.5">1</text></g>
<g id="or-F38" class="n g" transform="translate(437.7,512)"><rect x="-4.5" y="-5.5" width="9" height="11"/><text y="2.5">0</text></g>
<g id="or-F39" class="n g" transform="translate(446.7,512)"><rect x="-4.5" y="-5.5" width="9" height="11"/><text y="2.5">1</text></g>
<g id="or-F40" class="n g" transform="translate(458.5,512)"><rect x="-4.5" y="-5.5" width="9" height="11"/><text y="2.5">0</text></g>
<g id="or-F41" class="n g" transform="translate(467.5,512)"><rect x="-4.5" y="-5.5" width="9" height="11"/><text y="2.5">1</text></g>
<g id="or-F42" class="n g" transform="translate(479.3,512)"><rect x="-4.5" y="-5.5" width="9" height="11"/><text y="2.5">0</text></g>
<g id="or-F43" class="n g" transform="translate(488.3,512)"><rect x="-4.5" y="-5.5" width="9" height="11"/><text y="2.5">1</text></g>
<g id="or-F44" class="n g" transform="translate(500.1,512)"><rect x="-4.5" y="-5.5" width="9" height="11"/><text y="2.5">0</text></g>
<g id="or-F45" class="n g" transform="translate(509.1,512)"><rect x="-4.5" y="-5.5" width="9" height="11"/><text y="2.5">1</text></g>
<g id="or-F46" class="n g" transform="translate(520.9,512)"><rect x="-4.5" y="-5.5" width="9" height="11"/><text y="2.5">0</text></g>
<g id="or-F47" class="n g" transform="translate(529.9,512)"><rect x="-4.5" y="-5.5" width="9" height="11"/><text y="2.5">1</text></g>
<g id="or-F48" class="n p" transform="translate(541.7,512)"><rect x="-4.5" y="-5.5" width="9" height="11"/><text y="2.5">0</text></g>
<g id="or-F49" class="n p" transform="translate(550.7,512)"><rect x="-4.5" y="-5.5" width="9" height="11"/><text y="2.5">1</text></g>
<g id="or-F50" class="n g" transform="translate(562.5,512)"><rect x="-4.5" y="-5.5" width="9" height="11"/><text y="2.5">0</text></g>
<g id="or-F51" class="n g" transform="translate(571.5,512)"><rect x="-4.5" y="-5.5" width="9" height="11"/><text y="2.5">1</text></g>
<g id="or-F52" class="n p" transform="translate(583.3,512)"><rect x="-4.5" y="-5.5" width="9" height="11"/><text y="2.5">0</text></g>
<g id="or-F53" class="n p" transform="translate(592.3,512)"><rect x="-4.5" y="-5.5" width="9" height="11"/><text y="2.5">1</text></g>
<g id="or-F54" class="n g" transform="translate(604.1,512)"><rect x="-4.5" y="-5.5" width="9" height="11"/><text y="2.5">0</text></g>
<g id="or-F55" class="n g" transform="translate(613.1,512)"><rect x="-4.5" y="-5.5" width="9" height="11"/><text y="2.5">1</text></g>
<g id="or-F56" class="n g" transform="translate(624.9,512)"><rect x="-4.5" y="-5.5" width="9" height="11"/><text y="2.5">0</text></g>
<g id="or-F57" class="n g" transform="translate(633.9,512)"><rect x="-4.5" y="-5.5" width="9" height="11"/><text y="2.5">1</text></g>
<g id="or-F58" class="n g" transform="translate(645.7,512)"><rect x="-4.5" y="-5.5" width="9" height="11"/><text y="2.5">0</text></g>
<g id="or-F59" class="n g" transform="translate(654.7,512)"><rect x="-4.5" y="-5.5" width="9" height="11"/><text y="2.5">1</text></g>
<g id="or-F60" class="n g" transform="translate(666.5,512)"><rect x="-4.5" y="-5.5" width="9" height="11"/><text y="2.5">0</text></g>
<g id="or-F61" class="n g" transform="translate(675.5,512)"><rect x="-4.5" y="-5.5" width="9" height="11"/><text y="2.5">1</text></g>
<g id="or-F62" class="n g" transform="translate(687.3,512)"><rect x="-4.5" y="-5.5" width="9" height="11"/><text y="2.5">0</text></g>
<g id="or-F63" class="n g" transform="translate(696.3,512)"><rect x="-4.5" y="-5.5" width="9" height="11"/><text y="2.5">1</text></g>
</g>
</svg>
